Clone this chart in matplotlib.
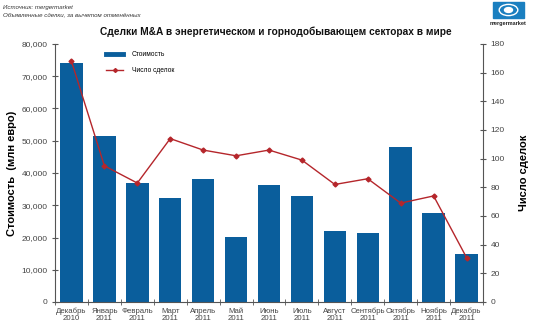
import matplotlib
matplotlib.use("Agg")
import matplotlib.pyplot as plt
from matplotlib.patches import Rectangle, Ellipse, Circle
from matplotlib.lines import Line2D
import numpy as np

categories = ["Декабрь\n2010", "Январь\n2011", "Февраль\n2011", "Март\n2011", "Апрель\n2011",
              "Май\n2011", "Июнь\n2011", "Июль\n2011", "Август\n2011", "Сентябрь\n2011",
              "Октябрь\n2011", "Ноябрь\n2011", "Декабрь\n2011"]
value_mln_eur = [74000, 51500, 37000, 32300, 38000, 20300, 36200, 32800, 22000, 21400, 48200, 27500, 14900]
deal_count = [168, 95, 83, 114, 106, 102, 106, 99, 82, 86, 69, 74, 31]

bar_color = "#0a5e9c"
line_color = "#b5262b"
grey = "#555555"

plt.rcParams['font.family'] = ['Liberation Sans', 'DejaVu Sans']

fig = plt.figure(figsize=(5.35, 3.29), dpi=100)
ax = fig.add_axes([55/535, 27/329, 428/535, 258/329])
x = np.arange(len(categories))
ax.bar(x, value_mln_eur, width=0.68, color=bar_color, zorder=2)
ax.set_xlim(-0.5, len(categories) - 0.5)
ax.set_ylim(0, 80000)
ax.set_yticks(range(0, 80001, 10000))
ax.set_yticklabels([f"{v:,}" for v in range(0, 80001, 10000)])
ax.set_xticks(x)
ax.set_xticklabels(categories, fontsize=5.6, color="#444444", linespacing=1.0)
ax.set_xticks(np.arange(-0.5, len(categories)), minor=True)
ax.tick_params(axis="x", which="major", length=0, pad=4)
ax.tick_params(axis="x", which="minor", length=5, direction="inout", color=grey)
ax.tick_params(axis="y", labelsize=6.0, labelcolor="#444444", length=5, direction="inout", color=grey, pad=3)
for s in ["top", "right"]:
    ax.spines[s].set_visible(False)
for s in ["left", "bottom"]:
    ax.spines[s].set_color(grey)
    ax.spines[s].set_linewidth(0.8)
ax.set_ylabel("Стоимость  (млн евро)", fontsize=8, fontweight="bold", labelpad=3)

ax2 = ax.twinx()
ax2.plot(x, deal_count, color=line_color, lw=1.0, marker="D", ms=2.5, zorder=3)
ax2.set_ylim(0, 180)
ax2.set_yticks(range(0, 181, 20))
ax2.tick_params(axis="y", labelsize=6.0, labelcolor="#444444", length=5, direction="inout", color=grey, pad=3)
for s in ["top", "left", "bottom"]:
    ax2.spines[s].set_visible(False)
ax2.spines["right"].set_color(grey)
ax2.spines["right"].set_linewidth(0.8)
ax2.set_ylabel("Число сделок", fontsize=8, fontweight="bold", rotation=90, labelpad=10)

handles = [Line2D([0], [0], color=bar_color, lw=3.5), Line2D([0], [0], color=line_color, lw=1, marker="D", ms=2)]
ax2.legend(handles, ["Стоимость", "Число сделок"], loc="upper left", bbox_to_anchor=(0.105, 0.995),
           frameon=False, fontsize=4.8, handlelength=2.6, labelspacing=1.3, handletextpad=1.3)

fig.text(3/535, 1 - 7/329, "Источник: mergermarket", fontsize=4.4, style="italic", color="#333333", va="center")
fig.text(3/535, 1 - 15/329, "Объявленные сделки, за вычетом отменённых", fontsize=4.4, style="italic", color="#333333", va="center")
fig.text(276/535, 1 - 32/329, "Сделки M&A в энергетическом и горнодобывающем секторах в мире",
         fontsize=7.3, fontweight="bold", ha="center", va="center", color="#111111")

# logo
lx, ly, lw_, lh = 493/535, 1 - 18/329, 31/535, 16/329
fig.patches.append(Rectangle((lx, ly), lw_, lh, transform=fig.transFigure, color="#1a7fc0", zorder=5))
fig.patches.append(Ellipse((lx + lw_/2, ly + lh/2), lw_*0.6, lh*0.7, transform=fig.transFigure,
                           facecolor="none", edgecolor="white", lw=1.0, zorder=6))
fig.patches.append(Circle((lx + lw_/2, ly + lh/2), 0.0075, transform=fig.transFigure, color="white", zorder=6))
fig.text(lx + lw_/2, 1 - 23/329, "mergermarket", fontsize=4, fontweight="bold", ha="center", va="center", color="#222222")

fig.savefig("out.png", dpi=100, facecolor="white")
